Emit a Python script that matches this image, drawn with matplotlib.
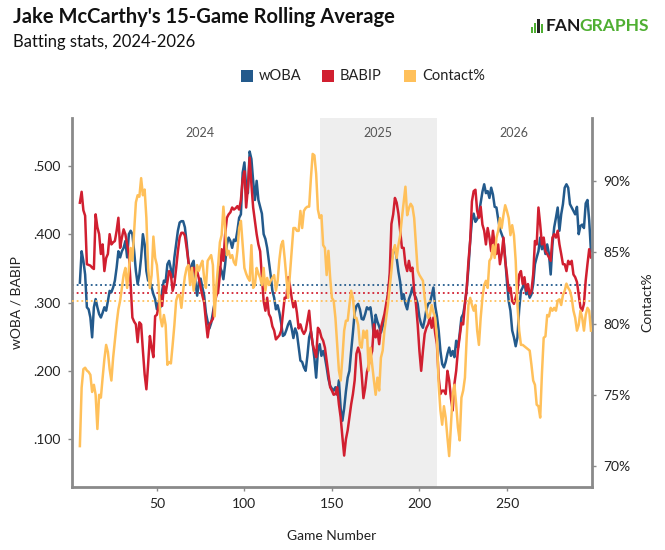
import numpy as np
import matplotlib
matplotlib.use("Agg")
import matplotlib.pyplot as plt
from matplotlib.patches import Rectangle
from matplotlib.ticker import FuncFormatter

plt.rcParams['font.family'] = ['Lato', 'DejaVu Sans']

# rolling 15-game values, one per game, starting at game 6
first_game = 6
woba = [
    .329, .375, .361, .341, .293, .290, .278, .249, .293, .305,
    .293, .283, .278, .285, .293, .288, .302, .317, .315, .322,
    .332, .351, .375, .366, .375, .380, .390, .366, .400, .405,
    .400, .375, .346, .327, .341, .366, .400, .385, .346, .332,
    .332, .322, .312, .305, .290, .300, .293, .317, .332, .330,
    .356, .361, .349, .337, .366, .385, .405, .417, .419, .419,
    .410, .388, .360, .341, .356, .361, .330, .310, .330, .335,
    .322, .310, .285, .272, .262, .270, .285, .300, .317, .337,
    .352, .346, .334, .356, .385, .395, .390, .380, .392, .390,
    .405, .424, .429, .490, .505, .470, .460, .521, .510, .478,
    .450, .478, .450, .440, .430, .400, .393, .380, .360, .340,
    .317, .307, .290, .296, .285, .270, .251, .253, .260, .268,
    .273, .262, .248, .262, .255, .235, .215, .213, .205, .200,
    .222, .249, .258, .240, .218, .190, .229, .239, .222, .229,
    .220, .205, .188, .178, .174, .171, .176, .165, .186, .145,
    .127, .145, .170, .190, .200, .229, .256, .285, .295, .298,
    .290, .276, .275, .283, .293, .290, .293, .275, .250, .282,
    .272, .265, .256, .265, .276, .290, .310, .335, .360, .375,
    .380, .365, .345, .330, .305, .312, .298, .290, .305, .312,
    .322, .312, .307, .298, .278, .268, .263, .275, .290, .298,
    .300, .310, .322, .295, .280, .259, .229, .210, .205, .213,
    .225, .234, .222, .229, .220, .244, .234, .254, .278, .283,
    .298, .320, .350, .390, .420, .430, .418, .422, .430, .446,
    .462, .473, .460, .463, .453, .468, .458, .440, .439, .422,
    .407, .400, .393, .365, .330, .302, .288, .259, .249, .236,
    .249, .290, .317, .322, .332, .312, .317, .307, .312, .327,
    .356, .366, .375, .395, .378, .385, .371, .385, .371, .341,
    .385, .410, .424, .439, .405, .429, .444, .468, .473, .468,
    .444, .439, .434, .429, .440, .400, .412, .414, .409, .445,
    .450, .420, .375,
]
babip = [
    .446, .462, .435, .427, .356, .355, .354, .351, .349, .429,
    .410, .400, .371, .385, .346, .365, .371, .400, .385, .388,
    .390, .405, .424, .380, .395, .407, .400, .385, .371, .327,
    .278, .272, .268, .242, .271, .268, .230, .195, .173, .210,
    .251, .234, .220, .280, .282, .295, .310, .295, .324, .314,
    .330, .346, .341, .317, .327, .350, .375, .395, .402, .402,
    .398, .380, .360, .341, .348, .351, .341, .346, .335, .322,
    .310, .300, .273, .249, .268, .272, .276, .300, .310, .316,
    .341, .378, .361, .400, .424, .429, .432, .439, .436, .438,
    .441, .436, .450, .480, .492, .439, .468, .512, .473, .439,
    .420, .400, .385, .375, .337, .302, .288, .307, .283, .278,
    .265, .259, .246, .249, .252, .259, .283, .307, .307, .337,
    .325, .307, .293, .302, .285, .262, .268, .259, .254, .259,
    .273, .288, .259, .239, .229, .220, .263, .259, .249, .244,
    .234, .215, .195, .176, .171, .165, .166, .176, .151, .132,
    .103, .076, .100, .113, .132, .151, .166, .186, .225, .234,
    .225, .195, .160, .175, .198, .208, .220, .229, .268, .249,
    .259, .239, .263, .273, .283, .298, .312, .341, .415, .429,
    .453, .446, .430, .405, .380, .380, .356, .346, .361, .346,
    .351, .317, .298, .268, .229, .200, .229, .254, .263, .268,
    .278, .263, .278, .255, .239, .190, .166, .171, .171, .166,
    .200, .186, .160, .142, .181, .200, .230, .250, .270, .268,
    .298, .320, .360, .390, .448, .463, .465, .434, .424, .440,
    .414, .405, .385, .409, .395, .375, .405, .385, .371, .385,
    .356, .371, .395, .361, .341, .317, .322, .302, .298, .307,
    .317, .341, .346, .327, .337, .317, .327, .312, .317, .341,
    .390, .385, .439, .414, .385, .395, .375, .371, .366, .361,
    .395, .400, .395, .405, .385, .371, .356, .356, .346, .361,
    .356, .361, .341, .337, .330, .312, .293, .288, .298, .332,
    .356, .378, .366,
]
contact = [
    71.4, 75.5, 76.8, 76.9, 76.7, 76.6, 76.4, 75.2, 75.7, 75.0,
    72.6, 75.0, 74.8, 76.2, 77.5, 78.5, 78.0, 76.8, 76.0, 77.6,
    78.8, 80.0, 81.0, 81.6, 82.5, 83.4, 83.9, 82.5, 83.8, 85.3,
    84.4, 86.5, 88.5, 89.0, 88.9, 90.2, 89.0, 89.4, 87.4, 83.9,
    82.5, 83.4, 86.1, 84.6, 84.1, 82.7, 80.4, 79.8, 80.6, 79.9,
    77.1, 77.3, 77.2, 78.5, 79.9, 81.6, 82.0, 82.0, 81.1, 82.3,
    83.3, 83.9, 84.1, 82.7, 83.9, 82.3, 83.2, 84.1, 83.7, 84.1,
    84.4, 83.2, 82.5, 84.4, 84.6, 84.8, 84.1, 80.5, 82.7, 84.1,
    85.7, 86.2, 88.2, 86.7, 84.8, 85.1, 84.6, 84.8, 84.3, 84.1,
    85.1, 86.7, 87.2, 85.5, 83.9, 83.5, 83.2, 83.0, 85.5, 82.5,
    82.7, 83.9, 83.5, 83.2, 82.7, 83.9, 82.3, 83.2, 82.7, 83.0,
    83.2, 83.4, 82.3, 83.0, 84.5, 85.5, 85.8, 84.6, 83.2, 81.8,
    83.4, 85.1, 86.7, 86.7, 86.5, 86.5, 87.9, 86.7, 87.9, 88.1,
    88.2, 88.2, 90.2, 91.9, 91.8, 90.5, 88.0, 87.4, 87.6, 85.5,
    85.3, 83.4, 85.1, 83.2, 81.8, 81.6, 80.4, 78.5, 76.7, 76.0,
    77.6, 79.5, 80.2, 80.2, 81.3, 82.3, 81.8, 80.4, 80.4, 79.9,
    78.5, 78.3, 79.5, 79.0, 79.5, 76.7, 78.3, 77.1, 76.0, 75.0,
    76.2, 75.3, 77.6, 78.1, 79.5, 80.4, 81.3, 82.5, 83.7, 85.1,
    85.5, 84.6, 85.5, 86.2, 87.4, 88.5, 89.6, 87.6, 88.1, 88.4,
    88.2, 87.4, 85.5, 83.7, 83.4, 83.2, 83.0, 81.8, 80.9, 80.4,
    80.6, 81.3, 80.8, 80.4, 79.0, 75.7, 73.9, 72.9, 74.2, 73.4,
    72.0, 70.7, 72.9, 75.0, 75.7, 74.3, 72.7, 71.8, 74.8, 75.3,
    76.2, 79.0, 81.3, 81.8, 81.3, 80.9, 81.3, 79.5, 78.5, 80.4,
    81.8, 82.7, 83.0, 82.5, 84.4, 84.6, 85.5, 84.6, 86.0, 86.5,
    87.4, 86.7, 87.6, 88.3, 87.9, 87.4, 86.2, 86.9, 86.2, 84.4,
    81.3, 79.5, 78.5, 78.5, 78.4, 78.3, 78.2, 78.1, 77.1, 76.0,
    75.7, 74.3, 74.2, 73.4, 76.5, 79.0, 79.1, 80.6, 80.5, 81.1,
    80.9, 81.1, 80.9, 81.6, 81.7, 81.3, 82.0, 82.3, 82.8, 82.5,
    82.3, 81.8, 80.9, 80.4, 79.5, 79.9, 80.9, 80.4, 79.5, 80.6,
    81.1, 80.9, 79.5,
]

# career averages (dotted reference lines)
woba_avg = 0.326
babip_avg = 0.314
contact_avg = 81.6

seasons = ["2024", "2025", "2026"]
season_starts = [6, 143, 210]
season_ends = [143, 210, 298]

series_names = ["wOBA", "BABIP", "Contact%"]
BLUE = "#235a8c"
RED = "#d11f30"
YELLOW = "#ffc05a"
colors = [BLUE, RED, YELLOW]
AXIS_GRAY = "#8a8a8a"

games_w = np.arange(first_game, first_game + len(woba))
games_b = np.arange(first_game, first_game + len(babip))
games_c = np.arange(first_game, first_game + len(contact))

fig = plt.figure(figsize=(6.65, 5.5), dpi=100)
ax = fig.add_axes([72 / 665, 1 - 487 / 550, 520 / 665, 369 / 550])

# shade the middle season
ax.axvspan(season_starts[1], season_ends[1], color="#eeeeee", lw=0, zorder=0)

ax.plot(games_w, woba, color=BLUE, lw=1.8, zorder=3)
ax.plot(games_b, babip, color=RED, lw=1.8, zorder=3)
ax.axhline(woba_avg, color=BLUE, lw=1.3, ls=(0, (1, 1.6)), zorder=2)
ax.axhline(babip_avg, color=RED, lw=1.3, ls=(0, (1, 1.6)), zorder=2)

ax2 = ax.twinx()
ax2.plot(games_c, contact, color=YELLOW, lw=1.8, zorder=3)
ax2.axhline(contact_avg, color=YELLOW, lw=1.3, ls=(0, (1, 1.6)), zorder=2)

ax.set_xlim(1.5, 298.6)
ax.set_ylim(0.03, 0.57)
ax2.set_ylim(68.53, 94.42)

ax.set_xticks([50, 100, 150, 200, 250])
ax.set_yticks([0.1, 0.2, 0.3, 0.4, 0.5])
ax.yaxis.set_major_formatter(FuncFormatter(lambda v, p: f"{v:.3f}".lstrip("0")))
ax2.set_yticks([70, 75, 80, 85, 90])
ax2.yaxis.set_major_formatter(FuncFormatter(lambda v, p: f"{v:.0f}%"))

for a in (ax, ax2):
    a.spines["top"].set_visible(False)
    a.tick_params(colors=AXIS_GRAY, labelcolor="#222222", labelsize=10,
                  length=3, width=1, pad=5)
ax.spines["right"].set_visible(False)
ax2.spines["left"].set_visible(False)
ax2.spines["bottom"].set_visible(False)
for s in ("left", "bottom"):
    ax.spines[s].set_color(AXIS_GRAY)
    ax.spines[s].set_linewidth(2)
ax2.spines["right"].set_color(AXIS_GRAY)
ax2.spines["right"].set_linewidth(2)

ax.set_xlabel("Game Number", fontsize=10, color="#222222", labelpad=14)
ax.set_ylabel("wOBA / BABIP", fontsize=10, color="#222222", labelpad=8)
ax2.set_ylabel("Contact%", fontsize=10, color="#222222", labelpad=8)

# season labels
for name, s0, s1 in zip(seasons, season_starts, season_ends):
    ax.text((s0 + s1) / 2, 0.96, name, transform=ax.get_xaxis_transform(),
            ha="center", va="center", fontsize=9, color="#555555")

# titles
fig.text(13 / 665, 1 - 17 / 550, "Jake McCarthy's 15-Game Rolling Average",
         fontsize=14.5, fontweight="bold", color="#111111", ha="left", va="center")
fig.text(13 / 665, 1 - 42 / 550, "Batting stats, 2024-2026",
         fontsize=12, color="#111111", ha="left", va="center")

# legend
leg_x = [241, 322, 404]
for name, c, x in zip(series_names, colors, leg_x):
    fig.add_artist(Rectangle((x / 665, 1 - 82 / 550), 12 / 665, 12 / 550,
                             transform=fig.transFigure, color=c, lw=0))
    fig.text((x + 18) / 665, 1 - 76 / 550, name, fontsize=10.5,
             color="#222222", ha="left", va="center")

# FanGraphs mark
GREEN = "#4faf32"
for i, h in enumerate([6, 10, 14, 9]):
    fig.add_artist(Rectangle(((531 + i * 3.2) / 665, 1 - 33 / 550), 2.2 / 665, h / 550,
                             transform=fig.transFigure, color=GREEN if i != 2 else "#222222", lw=0))
t1 = fig.text(546 / 665, 1 - 26 / 550, "FAN", fontsize=12.5, fontweight="bold",
              color="#1a1a1a", ha="left", va="center")
fig.canvas.draw()
bb = t1.get_window_extent()
fig.text((bb.x1 - 2.5) / 665, 1 - 26 / 550, "GRAPHS", fontsize=12.5,
         fontweight="bold", color=GREEN, ha="left", va="center")

fig.savefig("out.png", dpi=100)
